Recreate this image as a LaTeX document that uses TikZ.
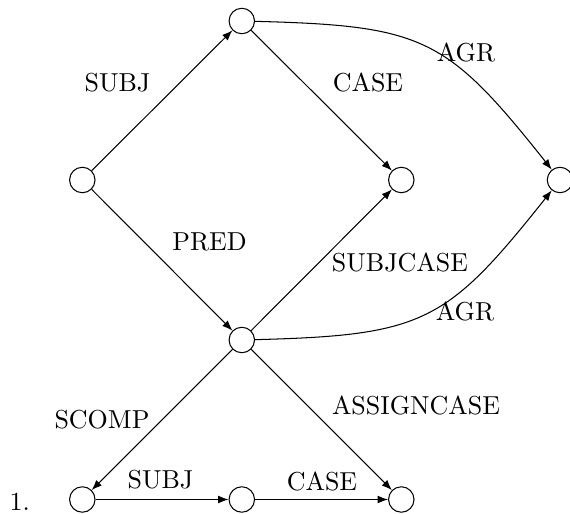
\documentclass[tikz,border=0pt]{standalone}
\usetikzlibrary{arrows.meta}
\begin{document}
\begin{tikzpicture}[x=0.385pt, y=0.385pt,
  state/.style={circle, draw, line width=0.4pt, minimum size=9.8pt, inner sep=0pt},
  arc/.style={-{Latex[length=4pt,width=3pt]}, line width=0.4pt},
  lbl/.style={inner sep=0pt}]
\useasboundingbox (0,0) rectangle (570,514);

% states on a regular grid
\node[state] (t)  at (241.8,493) {};
\node[state] (l)  at (82.3,334) {};
\node[state] (m)  at (401.3,334) {};
\node[state] (r)  at (560,334) {};
\node[state] (c)  at (241.8,174) {};
\node[state] (bl) at (82.3,14.5) {};
\node[state] (bm) at (241.8,14.5) {};
\node[state] (br) at (401.3,14.5) {};

% example number
\node[lbl, anchor=base west] (num) at (9,3.5) {1.};

% arcs
\draw[arc] (l) -- (t);
\draw[arc] (t) -- (m);
\draw[arc] (t) to[out=-1.5, in=128.5, looseness=1.3] (r);
\draw[arc] (l) -- (c);
\draw[arc] (c) -- (m);
\draw[arc] (c) to[out=1.5, in=-128.5, looseness=1.3] (r);
\draw[arc] (c) -- (bl);
\draw[arc] (c) -- (br);
\draw[arc] (bl) -- (bm);
\draw[arc] (bm) -- (br);

% arc labels
\node[lbl] (lsubj)  at (117.5,431.5) {SUBJ};
\node[lbl] (lcase)  at (368,432) {CASE};
\node[lbl] (lagr)   at (466,462) {AGR};
\node[lbl] (lpred)  at (209.5,272) {PRED};
\node[lbl] (lsc)    at (400,252) {SUBJCASE};
\node[lbl] (lagr2)  at (465,203) {AGR};
\node[lbl] (lscomp) at (102,94) {SCOMP};
\node[lbl] (lasc)   at (416,109) {ASSIGNCASE};
\node[lbl] (lsubj2) at (160.5,34) {SUBJ};
\node[lbl] (lcase2) at (322,33) {CASE};
\end{tikzpicture}
\end{document}
